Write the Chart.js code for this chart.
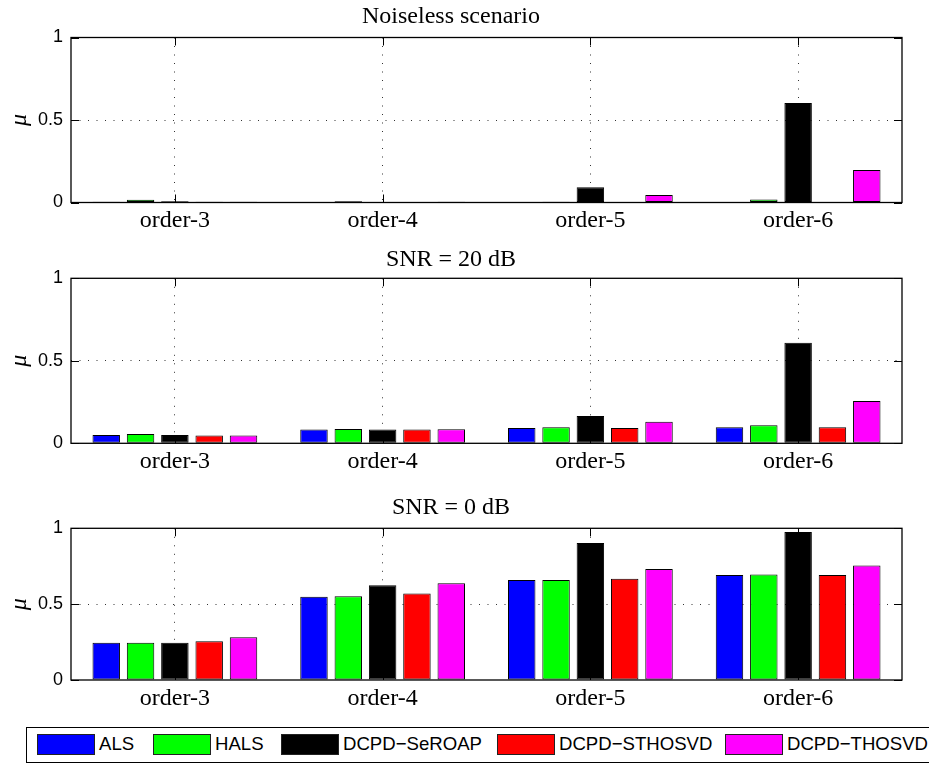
<!DOCTYPE html>
<html>
<head>
	<meta charset="utf-8">
	<title>Bar panels</title>
	<script src="https://cdn.jsdelivr.net/npm/chart.js@4.4.0/dist/chart.umd.min.js"></script>
	<style>
		body { margin: 0; background: #fff; width: 929px; height: 763px; overflow: hidden; position: relative; }
		canvas { position: absolute; left: 0; }
		#legend { position: absolute; left: 26px; top: 727px; width: 960px; height: 34px; border: 1px solid #000;
			font-family: 'Liberation Sans', Arial, sans-serif; font-size: 18.6px; color: #000; }
		#legend .box { position: absolute; top: 6px; width: 56px; height: 19px; border: 1px solid #222; }
		#legend .txt { position: absolute; top: 5px; line-height: 22px; white-space: nowrap; }
	</style>
</head>
<body>

	<canvas id="c1" width="929" height="240" style="top:0px"></canvas>
	<canvas id="c2" width="929" height="250" style="top:240px"></canvas>
	<canvas id="c3" width="929" height="225" style="top:490px"></canvas>
	<div id="legend"></div>

	<script type="text/javascript">

		const orders = ['order-3', 'order-4', 'order-5', 'order-6'];
		const methods = ['ALS', 'HALS', 'DCPD\u2212SeROAP', 'DCPD\u2212STHOSVD', 'DCPD\u2212THOSVD'];
		const colors = ['#0000ff', '#00ff00', '#000000', '#ff0000', '#ff00ff'];

		// Noiseless scenario
		const noiselessALS     = [0.004, 0.000, 0.002, 0.000];
		const noiselessHALS    = [0.016, 0.007, 0.004, 0.018];
		const noiselessSeROAP  = [0.008, 0.000, 0.092, 0.603];
		const noiselessSTHOSVD = [0.004, 0.000, 0.000, 0.000];
		const noiselessTHOSVD  = [0.004, 0.004, 0.045, 0.197];

		// SNR = 20 dB
		const snr20ALS     = [0.050, 0.083, 0.093, 0.097];
		const snr20HALS    = [0.057, 0.087, 0.097, 0.109];
		const snr20SeROAP  = [0.050, 0.083, 0.166, 0.610];
		const snr20STHOSVD = [0.048, 0.083, 0.093, 0.097];
		const snr20THOSVD  = [0.048, 0.085, 0.131, 0.257];

		// SNR = 0 dB
		const snr0ALS     = [0.246, 0.549, 0.659, 0.692];
		const snr0HALS    = [0.246, 0.552, 0.659, 0.695];
		const snr0SeROAP  = [0.246, 0.624, 0.903, 0.976];
		const snr0STHOSVD = [0.256, 0.571, 0.668, 0.692];
		const snr0THOSVD  = [0.282, 0.637, 0.732, 0.754];

		const yTicks = [0, 0.5, 1];

		// box + inward tick marks, like the matlab axes
		const frame = {
			id: 'frame',
			afterDraw(chart) {
				const {ctx, chartArea: a, scales: {x, y}} = chart;
				ctx.save();
				ctx.strokeStyle = '#000';
				ctx.lineWidth = 1.3;
				ctx.strokeRect(a.left, a.top, a.right - a.left, a.bottom - a.top);
				ctx.lineWidth = 1;
				ctx.beginPath();
				yTicks.forEach(v => {
					const py = Math.round(y.getPixelForValue(v)) + 0.5;
					ctx.moveTo(a.left, py); ctx.lineTo(a.left + 8, py);
					ctx.moveTo(a.right - 8, py); ctx.lineTo(a.right, py);
				});
				orders.forEach((o, i) => {
					const px = Math.round(x.getPixelForTick(i)) + 0.5;
					ctx.moveTo(px, a.bottom); ctx.lineTo(px, a.bottom - 8);
					ctx.moveTo(px, a.top); ctx.lineTo(px, a.top + 8);
				});
				ctx.stroke();
				ctx.restore();
			}
		};

		function makePanel(id, title, series, titlePad, xAxisH) {
			new Chart(document.getElementById(id), {
				type: 'bar',
				data: {
					labels: orders,
					datasets: series.map((d, i) => ({
						label: methods[i],
						data: d,
						backgroundColor: colors[i],
						borderColor: '#000',
						borderWidth: 1,
						borderSkipped: false,
						categoryPercentage: 0.826,
						barPercentage: 0.8
					}))
				},
				options: {
					responsive: false,
					animation: false,
					layout: { padding: { left: 0, right: 27, top: 0, bottom: 0 } },
					plugins: {
						legend: { display: false },
						tooltip: { enabled: false },
						title: {
							display: true,
							text: title,
							color: '#000',
							font: { family: 'Liberation Serif', size: 24, weight: 'normal', lineHeight: 1.2 },
							padding: { top: titlePad[0], bottom: titlePad[1] }
						}
					},
					scales: {
						x: {
							grid: { offset: false, drawTicks: false, color: '#333', lineWidth: 1 },
							border: { display: false, dash: [1, 7.5] },
							ticks: { padding: 4, color: '#000', font: { family: 'Liberation Serif', size: 24 } },
							afterFit: s => { s.height = xAxisH; }
						},
						y: {
							min: 0,
							max: 1,
							afterBuildTicks: s => { s.ticks = yTicks.map(v => ({ value: v })); },
							ticks: {
								padding: 8,
								color: '#000',
								font: { family: 'Liberation Sans', size: 18 },
								callback: v => String(v)
							},
							grid: {
								drawTicks: false,
								lineWidth: 1,
								color: c => (c.tick && c.tick.value === 0.5) ? '#333' : 'rgba(0,0,0,0)'
							},
							border: { display: false, dash: [1, 7.5] },
							title: {
								display: true,
								text: '\u03bc',
								color: '#000',
								font: { family: 'Liberation Serif', style: 'italic', size: 24, lineHeight: 1 },
								padding: { top: 8, bottom: 0 }
							},
							afterFit: s => { s.width = 71; }
						}
					}
				},
				plugins: [frame]
			});
		}

		makePanel('c1', 'Noiseless scenario',
			[noiselessALS, noiselessHALS, noiselessSeROAP, noiselessSTHOSVD, noiselessTHOSVD], [2.6, 6.1], 37.5);
		makePanel('c2', 'SNR = 20 dB',
			[snr20ALS, snr20HALS, snr20SeROAP, snr20STHOSVD, snr20THOSVD], [5.6, 3.9], 46.7);
		makePanel('c3', 'SNR = 0 dB',
			[snr0ALS, snr0HALS, snr0SeROAP, snr0STHOSVD, snr0THOSVD], [3.6, 5.9], 35);

		// legend, same look as the matlab one
		const legendBoxLeft = [10, 126, 254, 470, 698];
		const legend = document.getElementById('legend');
		methods.forEach((m, i) => {
			const b = document.createElement('div');
			b.className = 'box';
			b.style.left = legendBoxLeft[i] + 'px';
			b.style.background = colors[i];
			legend.appendChild(b);
			const t = document.createElement('span');
			t.className = 'txt';
			t.style.left = (legendBoxLeft[i] + 62) + 'px';
			t.textContent = m;
			legend.appendChild(t);
		});

	</script>

</body>
</html>
